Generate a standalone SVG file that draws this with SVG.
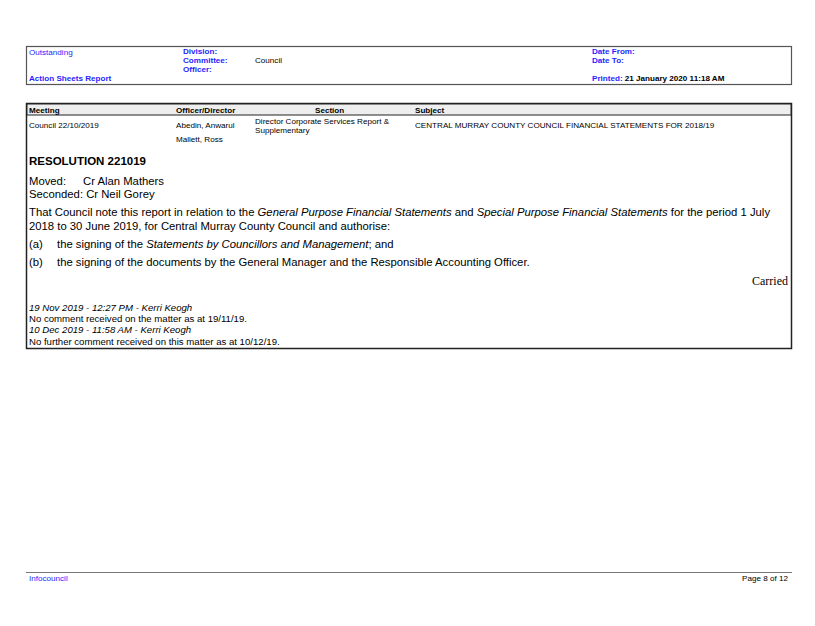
<svg xmlns="http://www.w3.org/2000/svg" width="815" height="626" viewBox="0 0 815 626">
<style>
text{font-family:"Liberation Sans",Arial,sans-serif;fill:#000}
.s{font-size:8.1px}
.n{font-size:9.6px}
.b{font-weight:bold}
.blue{fill:#1f1fff}
.m{font-size:11.3px}
.i{font-style:italic}
</style>
<rect width="815" height="626" fill="#fff"/>
<g id="header">
<rect x="26.5" y="46.5" width="765" height="38" fill="none" stroke="#555" stroke-width="1.2"/>
<text class="s blue" x="29" y="55">Outstanding</text>
<text class="s blue b" x="29" y="81">Action Sheets Report</text>
<text class="s blue b" x="183" y="54">Division:</text>
<text class="s blue b" x="183" y="63">Committee:</text>
<text class="s blue b" x="183" y="72">Officer:</text>
<text class="s" x="255" y="63">Council</text>
<text class="s blue b" x="592" y="54">Date From:</text>
<text class="s blue b" x="592" y="63">Date To:</text>
<text class="s b" x="592" y="81"><tspan class="blue">Printed:</tspan> 21 January 2020 11:18 AM</text>
</g>
<g id="table">
<rect x="26.5" y="103.5" width="765" height="245" fill="none" stroke="#222" stroke-width="1.5"/>
<rect x="27" y="104" width="764" height="11" fill="#eee" stroke="#222" stroke-width="1"/>
<text class="s b" x="29" y="113">Meeting</text>
<text class="s b" x="176" y="113">Officer/Director</text>
<text class="s b" x="315" y="113">Section</text>
<text class="s b" x="415" y="113">Subject</text>
<text class="s" x="29" y="128">Council 22/10/2019</text>
<text class="s" x="176" y="128">Abedin, Anwarul</text>
<text class="s" x="176" y="142">Mallett, Ross</text>
<text class="s" x="255" y="124">Director Corporate Services Report &amp;</text>
<text class="s" x="255" y="133">Supplementary</text>
<text class="s" x="415" y="128">CENTRAL MURRAY COUNTY COUNCIL FINANCIAL STATEMENTS FOR 2018/19</text>
<text class="b" x="29" y="165" font-size="11.5">RESOLUTION 221019</text>
<text class="m" x="29" y="185">Moved:</text>
<text class="m" x="83" y="185">Cr Alan Mathers</text>
<text class="m" x="29" y="198">Seconded: Cr Neil Gorey</text>
<text class="m" x="29" y="216">That Council note this report in relation to the <tspan class="i">General Purpose Financial Statements</tspan> and <tspan class="i">Special Purpose Financial Statements</tspan> for the period 1 July</text>
<text class="m" x="29" y="230">2018 to 30 June 2019, for Central Murray County Council and authorise:</text>
<text class="m" x="29" y="248">(a)</text>
<text class="m" x="57" y="248">the signing of the <tspan class="i">Statements by Councillors and Management</tspan>; and</text>
<text class="m" x="29" y="266">(b)</text>
<text class="m" x="57" y="266">the signing of the documents by the General Manager and the Responsible Accounting Officer.</text>
<text x="788" y="285" text-anchor="end" font-size="12" style="font-family:'Liberation Serif',serif">Carried</text>
<text class="n i" x="29" y="311">19 Nov 2019 - 12:27 PM - Kerri Keogh</text>
<text class="n" x="29" y="322">No comment received on the matter as at 19/11/19.</text>
<text class="n i" x="29" y="333">10 Dec 2019 - 11:58 AM - Kerri Keogh</text>
<text class="n" x="29" y="345">No further comment received on this matter as at 10/12/19.</text>
</g>
<g id="footer">
<line x1="26" y1="572.5" x2="792" y2="572.5" stroke="#777" stroke-width="1"/>
<text class="s blue" x="29" y="581">Infocouncil</text>
<text class="s" x="788" y="581" text-anchor="end">Page 8 of 12</text>
</g>
</svg>
